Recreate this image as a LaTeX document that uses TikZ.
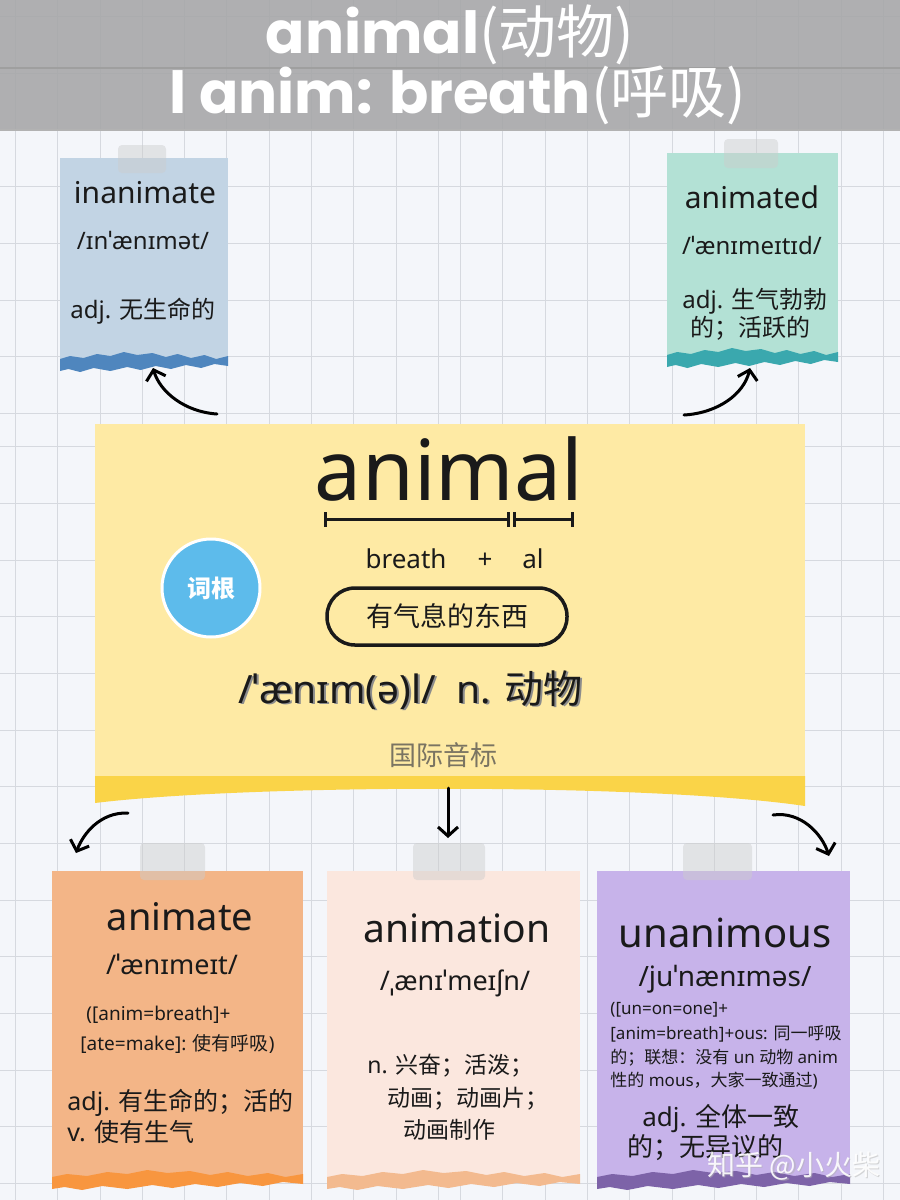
\documentclass[tikz,border=0pt]{standalone}
\usepackage{fontspec}
\setmainfont{Noto Sans}
\newfontfamily\cjk{Noto Sans CJK SC}
\newfontfamily\pop{Poppins}
\usetikzlibrary{arrows.meta}
\definecolor{bg}{HTML}{F4F6FA}
\definecolor{gridc}{HTML}{D6D9DF}
\definecolor{titlec}{HTML}{A6A6A8}
\definecolor{ink}{HTML}{1A1A1A}
\definecolor{c1}{HTML}{C2D4E4}
\definecolor{c1b}{HTML}{4F86BE}
\definecolor{c2}{HTML}{B3E1D5}
\definecolor{c2b}{HTML}{3AA8AE}
\definecolor{cy}{HTML}{FEEAA4}
\definecolor{cyb}{HTML}{FAD448}
\definecolor{c3}{HTML}{F3B587}
\definecolor{c3b}{HTML}{F8963F}
\definecolor{c4}{HTML}{FBE7DE}
\definecolor{c4b}{HTML}{F3BA8F}
\definecolor{c5}{HTML}{C7B3EA}
\definecolor{c5b}{HTML}{7D63A8}
\definecolor{rootc}{HTML}{5DBBEB}
\definecolor{ipagrey}{HTML}{7A7462}
\newcommand\fsz[1]{\fontsize{#1}{#1}\selectfont}
\newcommand\tornband[4]{%
  \begin{scope}[shift={(#1,#3)},xscale=#2]
  \fill[#4] (0,-3) -- (0.06,-6) -- (0.14,-4) -- (0.22,-8) -- (0.3,-6) -- (0.38,-10) -- (0.46,-7) -- (0.55,-9) -- (0.63,-5) -- (0.7,-8) -- (0.78,-4) -- (0.86,-7) -- (0.93,-3) -- (1,-6)
   -- (1,4) -- (0.92,2) -- (0.84,6) -- (0.75,3) -- (0.66,7) -- (0.57,4) -- (0.48,8) -- (0.4,5) -- (0.3,9) -- (0.2,6) -- (0.12,10) -- (0.05,7) -- (0,9) -- cycle;
  \end{scope}}
\tikzset{
  txt/.style={inner sep=0pt, text=ink},
  lbl/.style={txt, anchor=base},
  lblw/.style={txt, anchor=base west},
  arr/.style={line width=1.5pt, line cap=round, -{Straight Barb[length=4.5pt,width=10pt,line width=1.5pt]}},
  tapebox/.style={fill=gray!40, opacity=0.45, rounded corners=2pt},
  gridline/.style={gridc, line width=0.5pt},
}
\begin{document}
\begin{tikzpicture}[x=0.5pt,y=-0.5pt]
\useasboundingbox (0,0) rectangle (900,1200);
\fill[bg] (0,0) rectangle (900,1200);
% grid
\foreach \gx in {15.4,57.7,100,142.3,184.6,226.9,269.2,311.5,353.8,396.1,438.4,460.5,502.8,545.1,587.4,629.7,672,714.3,756.6,798.9,841.2,883.5}
  \draw[gridline] (\gx,0) -- (\gx,1200);
\foreach \gy in {16.7,73.3,130,186.7,243.3,300,356.7,413.3,446.7,503.3,560,616.7,673.3,730,786.7,843.3,900,956.7,1013.3,1070,1126.7,1183.3}
  \draw[gridline] (0,\gy) -- (900,\gy);
% title band
\fill[titlec, opacity=0.88] (0,0) rectangle (900,130);
\draw[gray!75, line width=0.8pt] (0,68) -- (900,68);
\draw[gray!60, line width=0.6pt] (0,130) -- (900,130);
\node[lbl, text=white] (t1) at (450,53) {\fsz{29}\pop\bfseries animal{\cjk\mdseries (动物)}};
\node[lbl, text=white] (t2) at (458,113) {\fsz{29}\pop\bfseries l anim: breath{\cjk\mdseries (呼吸)}};
% ===== top-left card
\fill[c1] (60,158) rectangle (228,362);
\tornband{60}{168}{362}{c1b}
\fill[tapebox] (118,145) rectangle (166,173);
\node[lbl] (w1) at (145,203) {\fsz{15}inanimate};
\node[lbl] (p1) at (143,249) {\fsz{12}/ɪnˈænɪmət/};
\node[lblw] (m1) at (70,318) {\fsz{12}adj. {\cjk 无生命的}};
% ===== top-right card
\fill[c2] (667,153) rectangle (838,358);
\tornband{667}{171}{358}{c2b}
\fill[tapebox] (724,139) rectangle (778,168);
\node[lbl] (w2) at (752,208) {\fsz{15}animated};
\node[lbl] (p2) at (752,254) {\fsz{12}/ˈænɪmeɪtɪd/};
\node[lblw] (m2a) at (682,308) {\fsz{12}adj. {\cjk 生气勃勃}};
\node[lblw] (m2b) at (690,336) {\fsz{12}\cjk 的；活跃的};
% ===== center card
\fill[cy] (95,424) rectangle (805,778);
\fill[cyb] (95,776) -- (805,776) -- (805,806) .. controls (650,783) and (250,784) .. (95,803) -- cycle;
\node[lbl] (animal) at (449,500) {\fsz{42}animal};
\draw[ink, line width=1.5pt] (325,519) -- (508,519);
\draw[ink, line width=1.5pt] (325,512) -- (325,527);
\draw[ink, line width=1.5pt] (508,512) -- (508,527);
\draw[ink, line width=1.5pt] (514,519) -- (572,519);
\draw[ink, line width=1.5pt] (514,512) -- (514,527);
\draw[ink, line width=1.5pt] (572,512) -- (572,527);
\node[lbl] (br) at (406,568) {\fsz{13}breath};
\node[lbl] (pl) at (485,568) {\fsz{13}+};
\node[lbl] (al) at (533,568) {\fsz{13}al};
\draw[ink, line width=1.75pt, rounded corners=14pt] (327,588) rectangle (567,645);
\node[txt] (mean) at (447,616) {\fsz{13.5}\cjk 有气息的东西};
\node[lblw, text=black!45] at (240,704.5) {\fsz{19.5}/ˈænɪm(ə)l/\ \ n. {\cjk 动物}};
\node[lblw] (pron) at (238,703) {\fsz{19.5}/ˈænɪm(ə)l/\ \ n. {\cjk 动物}};
\node[txt, text=ipagrey] (ipa) at (443,755) {\fsz{13.5}\cjk 国际音标};
\node[circle, fill=rootc, draw=white, line width=1.5pt, minimum size=49pt, inner sep=0pt, text=white] (root) at (211,588) {\fsz{12}\cjk\bfseries 词根};
% ===== bottom-left card
\fill[c3] (52,871) rectangle (303,1180);
\tornband{52}{251}{1180}{c3b}
\fill[tapebox] (140,843) rectangle (205,880);
\node[lbl] (w3) at (180,930) {\fsz{19}animate};
\node[lbl] (p3) at (172,974) {\fsz{13.5}/ˈænɪmeɪt/};
\node[lblw] (e3a) at (86,1020) {\fsz{9.5}([anim=breath]+};
\node[lblw] (e3b) at (80,1050) {\fsz{9.5}[ate=make]: {\cjk 使有呼吸}{)}};
\node[lblw] (m3a) at (67,1110) {\fsz{12.5}adj. {\cjk 有生命的；活的}};
\node[lblw] (m3b) at (67,1141) {\fsz{12.5}v. {\cjk 使有生气}};
% ===== bottom-middle card
\fill[c4] (327,871) rectangle (580,1180);
\tornband{327}{253}{1180}{c4b}
\fill[tapebox] (413,843) rectangle (485,880);
\node[lbl] (w4) at (457,942) {\fsz{19.5}animation};
\node[lbl] (p4) at (455,990) {\fsz{13.5}/ˌænɪˈmeɪʃn/};
\node[lblw] (m4a) at (367,1073) {\fsz{11.5}n. {\cjk 兴奋；活泼；}};
\node[lblw] (m4b) at (387,1106) {\fsz{11.5}\cjk 动画；动画片；};
\node[lblw] (m4c) at (403,1138) {\fsz{11.5}\cjk 动画制作};
% ===== bottom-right card
\fill[c5] (597,871) rectangle (850,1180);
\tornband{597}{253}{1180}{c5b}
\fill[tapebox] (683,843) rectangle (752,880);
\node[lbl] (w5) at (725,947) {\fsz{20}unanimous};
\node[lbl] (p5) at (725,986) {\fsz{14}/juˈnænɪməs/};
\node[lblw] (e5a) at (610,1014) {\fsz{8.5}([un=on=one]+};
\node[lblw] (e5b) at (610,1039) {\fsz{8.5}[anim=breath]+ous: {\cjk 同一呼吸}};
\node[lblw] (e5c) at (610,1063) {\fsz{8.5}{\cjk 的；联想：没有} un {\cjk 动物} anim};
\node[lblw] (e5d) at (610,1086) {\fsz{8.5}{\cjk 性的} mous{\cjk ，大家一致通过}{)}};
\node[lbl] (m5a) at (721,1126) {\fsz{13}adj. {\cjk 全体一致}};
\node[lbl] (m5b) at (705,1156) {\fsz{13}\cjk 的；无异议的};
% watermark
\node[lblw, text=gray!60, opacity=0.5] at (708.5,1176.5) {\fsz{14}\cjk 知乎 @小火柴};
\node[lblw, text=white, opacity=0.9] (wm) at (707,1175) {\fsz{14}\cjk 知乎 @小火柴};
% ===== connectors
\coordinate (a1s) at (217,414); \coordinate (a1e) at (153,368);
\coordinate (a2s) at (684,415); \coordinate (a2e) at (750,368);
\coordinate (a3s) at (128,813); \coordinate (a3e) at (76,853);
\coordinate (a4s) at (448,788); \coordinate (a4e) at (448,838);
\coordinate (a5s) at (773,815); \coordinate (a5e) at (829,856);
\draw[arr] (a1s) .. controls (185,412) and (160,392) .. (a1e);
\draw[arr] (a2s) .. controls (718,413) and (744,394) .. (a2e);
\draw[arr] (a3s) .. controls (100,812) and (83,834) .. (a3e);
\draw[arr] (a4s) -- (a4e);
\draw[arr] (a5s) .. controls (801,811) and (822,834) .. (a5e);
\end{tikzpicture}
\end{document}
